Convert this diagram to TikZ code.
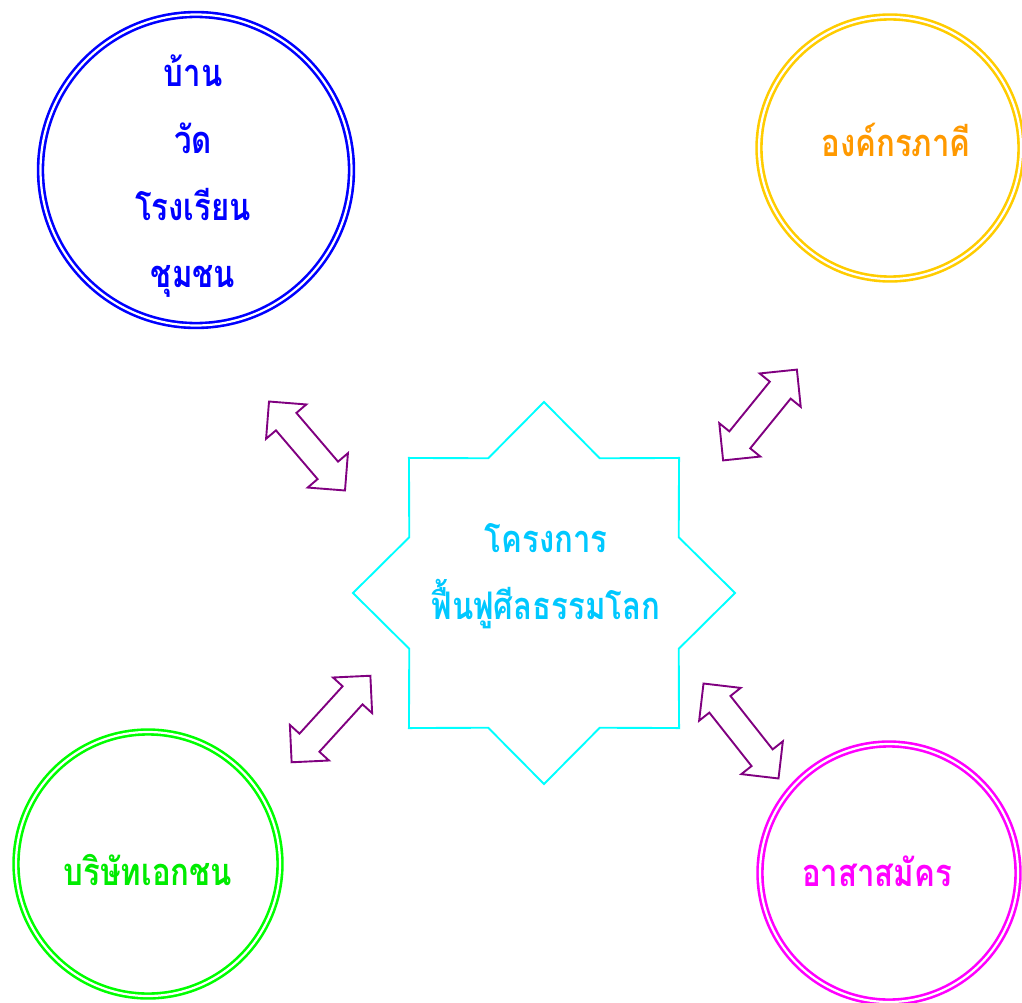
\documentclass[tikz,border=0pt]{standalone}
\usepackage{fontspec}
\newfontfamily\thai[Script=Thai, FakeStretch=0.82]{Loma}
\usetikzlibrary{shapes.geometric,shapes.arrows}
\definecolor{ringblue}{RGB}{0,0,255}
\definecolor{ringgold}{RGB}{255,204,0}
\definecolor{textorange}{RGB}{255,153,0}
\definecolor{ringgreen}{RGB}{0,255,0}
\definecolor{textgreen}{RGB}{0,235,0}
\definecolor{ringmagenta}{RGB}{255,0,255}
\definecolor{starcyan}{RGB}{0,255,255}
\definecolor{textsky}{RGB}{0,200,255}
\definecolor{linkpurple}{RGB}{128,0,128}

\begin{document}
\begin{tikzpicture}[x=1pt, y=-1pt,
  ring/.style={circle, draw=#1, double, double distance=2.2pt, line width=2.6pt, inner sep=0pt},
  lab/.style={font=\thai\bfseries\fontsize{38}{67}\selectfont, align=center},
  dbl/.style={double arrow, draw=linkpurple, line width=1.9pt, double arrow tip angle=90,
    double arrow head extend=13pt, inner xsep=0pt, inner ysep=12.5pt}]
\useasboundingbox (0,0) rectangle (1022,1003);
\node[star, star points=8, star point ratio=1.31, minimum size=382pt, inner sep=0pt,
  draw=starcyan, line width=1.9pt] (project) at (544,593) {};
\node[lab, text=textsky] (projectlab) at (546,576) {โครงการ\\ฟื้นฟูศีลธรรมโลก};
\node[ring=ringblue, minimum size=311pt] (home) at (196,170) {};
\node[ring=ringgold, minimum size=262pt] (partner) at (890,148) {};
\node[ring=ringgreen, minimum size=264pt] (firm) at (148,864) {};
\node[ring=ringmagenta, minimum size=258pt] (volunteer) at (889,873) {};
\node[lab, text=ringblue] (homelab) at (193,176) {บ้าน\\วัด\\โรงเรียน\\ชุมชน};
\node[lab, text=textorange] (partnerlab) at (896,140) {องค์กรภาคี};
\node[lab, text=textgreen] (firmlab) at (148,870) {บริษัทเอกชน};
\node[lab, text=ringmagenta] (volunteerlab) at (877,871) {อาสาสมัคร};
\node[dbl, rotate=-49.5, minimum height=117pt] (homelink) at (307,446) {};
\node[dbl, rotate=50.9, minimum height=117pt] (partnerlink) at (760,415) {};
\node[dbl, rotate=47.7, minimum height=117pt] (firmlink) at (331,719) {};
\node[dbl, rotate=-51.7, minimum height=121pt] (volunteerlink) at (741,731) {};
\end{tikzpicture}
\end{document}
